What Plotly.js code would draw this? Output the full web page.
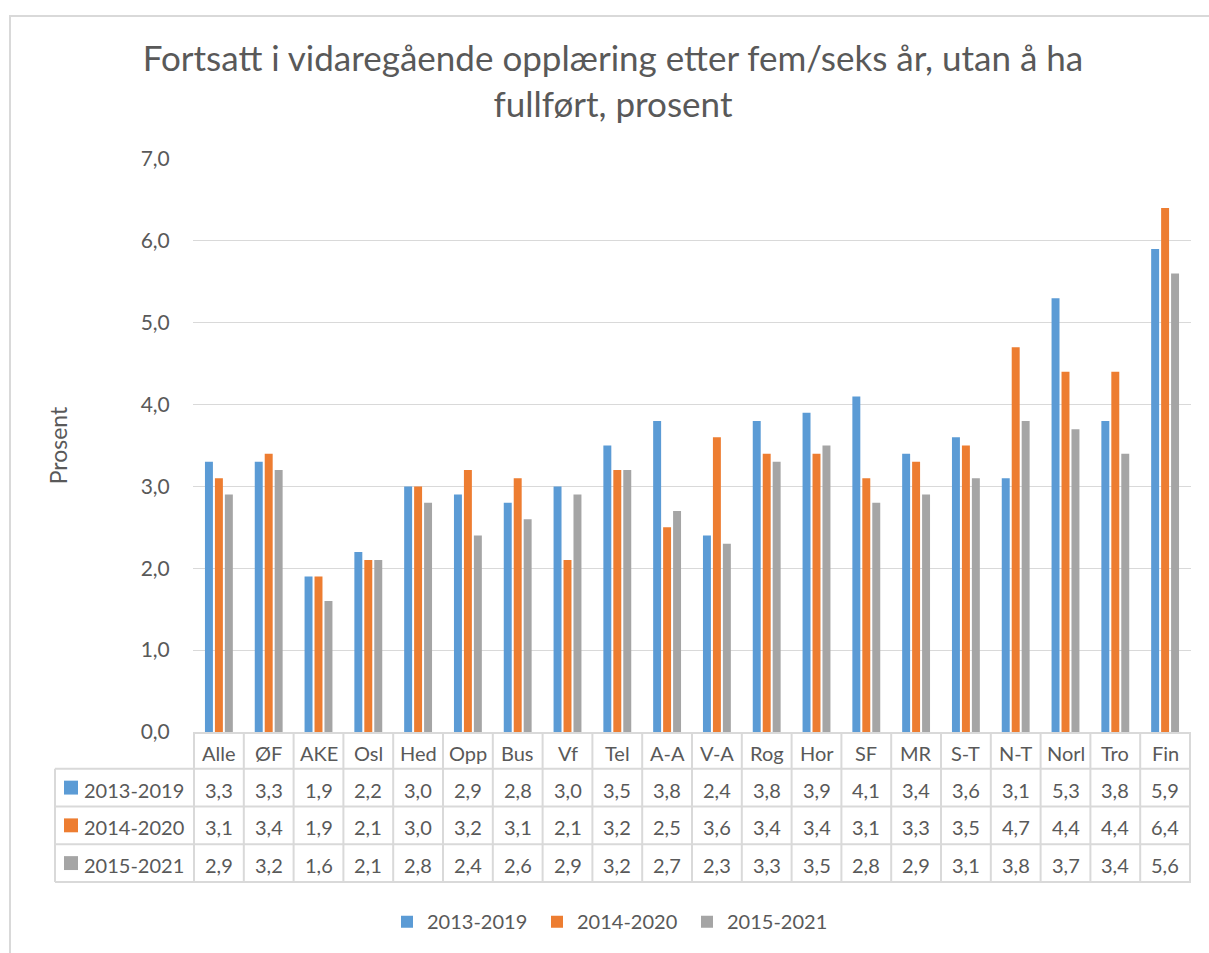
<!DOCTYPE html>
<html>
<head>
<meta charset="utf-8">
<script src="https://cdn.plot.ly/plotly-3.0.1.min.js"></script>
<style>html,body{margin:0;padding:0;background:#fff;}#chart{width:1209px;height:953px;}</style>
</head>
<body>
<div id="chart"></div>
<script>
const categories = ['Alle','ØF','AKE','Osl','Hed','Opp','Bus','Vf','Tel','A-A','V-A','Rog','Hor','SF','MR','S-T','N-T','Norl','Tro','Fin'];
const seriesNames = ['2013-2019','2014-2020','2015-2021'];
const s2013_2019 = [3.3,3.3,1.9,2.2,3.0,2.9,2.8,3.0,3.5,3.8,2.4,3.8,3.9,4.1,3.4,3.6,3.1,5.3,3.8,5.9];
const s2014_2020 = [3.1,3.4,1.9,2.1,3.0,3.2,3.1,2.1,3.2,2.5,3.6,3.4,3.4,3.1,3.3,3.5,4.7,4.4,4.4,6.4];
const s2015_2021 = [2.9,3.2,1.6,2.1,2.8,2.4,2.6,2.9,3.2,2.7,2.3,3.3,3.5,2.8,2.9,3.1,3.8,3.7,3.4,5.6];
const yTicks = [0,1,2,3,4,5,6,7];
const titleText = 'Fortsatt i vidaregående opplæring etter fem/seks år, utan å ha<br>fullført, prosent';
const yTitle = 'Prosent';

const seriesValues = [s2013_2019, s2014_2020, s2015_2021];
const colors = ['#5b9bd5','#ed7d31','#a5a5a5'];
const FONT = 'Lato, "Noto Sans", sans-serif';
const TXT = '#595959';
const GRID = '#d9d9d9';

// pixel helpers (layout only)
const W = 1209, H = 953;
const L = 193, R = 1191, T = 159, B = 736;
const xp = px => (px - L) / (R - L);
const yp = py => (B - py) / (B - T);
const fmt = v => v.toFixed(1).replace('.', ',');

const traces = seriesValues.map((vals, i) => ({
  type: 'bar',
  name: seriesNames[i],
  x: categories,
  y: vals,
  marker: {color: colors[i]},
  hoverinfo: 'x+y+name'
}));

const shapes = [];
const annotations = [];

// outer chart frame
shapes.push({type:'rect', xref:'paper', yref:'paper', x0: xp(10), x1: xp(1230), y0: yp(980), y1: yp(15),
  line:{color:GRID, width:2}, fillcolor:'rgba(0,0,0,0)', layer:'below'});

// data table grid
const rowLines = [773, 811, 849, 887];
rowLines.forEach(py => shapes.push({type:'line', xref:'paper', yref:'paper', x0: xp(55), x1: 1, y0: yp(py), y1: yp(py), line:{color:GRID, width:2}}));
shapes.push({type:'line', xref:'paper', yref:'paper', x0: xp(55), x1: xp(55), y0: yp(773), y1: yp(887), line:{color:GRID, width:2}});
for (let k = 0; k <= categories.length; k++) {
  shapes.push({type:'line', xref:'x', yref:'paper', x0: k - 0.5, x1: k - 0.5, y0: yp(737), y1: yp(887), line:{color:GRID, width:2}});
}

// header row (category labels)
const headerY = yp(757);
const rowY = [yp(794), yp(832), yp(870)];
categories.forEach((c, k) => {
  annotations.push({xref:'x', yref:'paper', x: k, y: headerY, text: c, showarrow:false,
    font:{family:FONT, size:20, color:TXT}, xanchor:'center', yanchor:'middle'});
});
seriesValues.forEach((vals, i) => {
  shapes.push({type:'rect', xref:'paper', yref:'paper', x0: xp(64), x1: xp(78), y0: rowY[i] - 5/(B-T), y1: rowY[i] + 9/(B-T),
    fillcolor: colors[i], line:{width:0}});
  annotations.push({xref:'paper', yref:'paper', x: xp(82), y: rowY[i], text: seriesNames[i], showarrow:false,
    font:{family:FONT, size:20, color:TXT}, xanchor:'left', yanchor:'middle'});
  vals.forEach((v, k) => {
    annotations.push({xref:'x', yref:'paper', x: k, y: rowY[i], text: fmt(v), showarrow:false,
      font:{family:FONT, size:20, color:TXT}, xanchor:'center', yanchor:'middle'});
  });
});

const layout = {
  width: W, height: H,
  margin: {l: L, r: W - R, t: T, b: H - B, pad: 0},
  paper_bgcolor: '#ffffff', plot_bgcolor: '#ffffff',
  separators: ', ',
  font: {family: FONT, color: TXT, size: 20},
  title: {text: titleText, x: 0.507, xanchor: 'center', y: 1 - 71/H, yanchor: 'top',
    font: {family: FONT, size: 35, color: TXT}},
  barmode: 'group',
  bargap: 0.4,
  bargroupgap: 0.2,
  xaxis: {type:'category', showticklabels:false, ticks:'', showgrid:false, zeroline:false,
    showline:true, linecolor:GRID, linewidth:2, fixedrange:true},
  yaxis: {range:[0,7], tickvals: yTicks, tickformat: '.1f', showgrid:true, gridcolor:GRID, gridwidth:1,
    zeroline:false, showline:false, ticks:'outside', ticklen:18, tickcolor:'rgba(0,0,0,0)',
    tickfont:{family:FONT, size:21, color:TXT},
    title:{text: yTitle, standoff: 66, font:{family:FONT, size:23, color:TXT}}, automargin:false, fixedrange:true},
  showlegend: true,
  legend: {orientation:'h', x: xp(387), xanchor:'left', y: yp(927), yanchor:'middle',
    font:{family:FONT, size:20, color:TXT}, bgcolor:'rgba(0,0,0,0)', traceorder:'normal',
    entrywidth: 105, entrywidthmode:'pixels', itemclick:false, itemdoubleclick:false},
  shapes: shapes,
  annotations: annotations
};

Plotly.newPlot('chart', traces, layout, {displayModeBar:false, staticPlot:false});
</script>
</body>
</html>
